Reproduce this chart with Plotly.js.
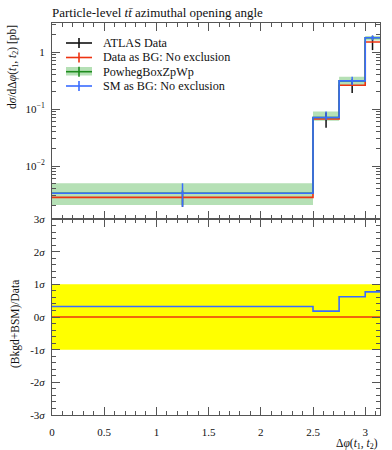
<!DOCTYPE html>
<html>
<head>
<meta charset="utf-8">
<script src="https://cdn.plot.ly/plotly-3.0.1.min.js"></script>
<style>html,body{margin:0;padding:0;background:#fff;}#chart{width:392px;height:450px;}</style>
</head>
<body>
<div id="chart"></div>
<script>
// ---- data ----
const binEdges = [0, 2.5, 2.75, 3.0, Math.PI];
const binCenters = [1.25, 2.625, 2.875, 3.07];

const atlasData = [2.82e-3, 0.0668, 0.261, 1.50];
const atlasErr = [0.9e-3, 0.020, 0.070, 0.42];

const dataAsBG = [2.82e-3, 0.0668, 0.261, 1.50];

const powhegVals = [3.32e-3, 0.0710, 0.312, 1.78];
const powhegLow = [2.07e-3, 0.0620, 0.264, 1.60];
const powhegHigh = [4.97e-3, 0.0900, 0.369, 1.91];

const smVals = [3.32e-3, 0.0710, 0.312, 1.78];
const smErrPlus = [1.65e-3, 0.019, 0.057, 0.18];
const smErrMinus = [1.40e-3, 0.007, 0.048, 0.18];

const ratioSM = [0.32, 0.18, 0.62, 0.77];
const ratioDataBG = [0, 0, 0, 0];
const ratioBandLow = [-1, -1, -1, -1];
const ratioBandHigh = [1, 1, 1, 1];

const sigmaTickVals = [-3, -2, -1, 0, 1, 2, 3];
const sigmaTickText = ['-3<i>σ</i>', '-2<i>σ</i>', '-1<i>σ</i>', '0<i>σ</i>', '1<i>σ</i>', '2<i>σ</i>', '3<i>σ</i>'];
const logTickVals = [0.01, 0.1, 1];
const logTickText = ['10<sup>−2</sup>', '10<sup>−1</sup>', '1'];

const legendNames = ['ATLAS Data', 'Data as BG: No exclusion', 'PowhegBoxZpWp', 'SM as BG: No exclusion'];

// ---- styles ----
const FONT = 'Liberation Serif, DejaVu Serif, serif';
const C_BLACK = '#111111';
const C_RED = '#ee3311';
const C_GREEN = '#1e8c1e';
const C_BAND = '#b5e0b5';
const C_BLUE = '#3a6cff';
const C_YELLOW = '#ffff00';

function stepY(v) { return v.concat([v[v.length - 1]]); }

const traces = [];
// upper: green band
traces.push({x: binEdges, y: stepY(powhegLow), mode: 'lines', line: {shape: 'hv', width: 0, color: C_BAND},
  xaxis: 'x2', yaxis: 'y', showlegend: false, hoverinfo: 'skip'});
traces.push({x: binEdges, y: stepY(powhegHigh), mode: 'lines', line: {shape: 'hv', width: 0, color: C_BAND},
  fill: 'tonexty', fillcolor: C_BAND, xaxis: 'x2', yaxis: 'y', showlegend: false, hoverinfo: 'skip'});
// ATLAS data
traces.push({x: binCenters, y: atlasData, mode: 'markers', marker: {size: 1, color: C_BLACK, opacity: 0},
  error_y: {type: 'data', array: atlasErr, color: C_BLACK, thickness: 1.5, width: 0},
  xaxis: 'x2', yaxis: 'y', showlegend: false});
// Data as BG
traces.push({x: binEdges, y: stepY(dataAsBG), mode: 'lines', line: {shape: 'hv', width: 1.6, color: C_RED},
  xaxis: 'x2', yaxis: 'y', showlegend: false});
// Powheg line
traces.push({x: binEdges, y: stepY(powhegVals), mode: 'lines', line: {shape: 'hv', width: 1.6, color: C_GREEN},
  xaxis: 'x2', yaxis: 'y', showlegend: false});
// SM line
traces.push({x: binEdges, y: stepY(smVals), mode: 'lines', line: {shape: 'hv', width: 1.6, color: C_BLUE},
  xaxis: 'x2', yaxis: 'y', showlegend: false});
traces.push({x: binCenters, y: smVals, mode: 'markers', marker: {size: 1, color: C_BLUE, opacity: 0},
  error_y: {type: 'data', symmetric: false, array: smErrPlus, arrayminus: smErrMinus, color: C_BLUE, thickness: 1.5, width: 0},
  xaxis: 'x2', yaxis: 'y', showlegend: false});

// lower: yellow band
traces.push({x: binEdges, y: stepY(ratioBandLow), mode: 'lines', line: {shape: 'hv', width: 0, color: C_YELLOW},
  xaxis: 'x', yaxis: 'y2', showlegend: false, hoverinfo: 'skip'});
traces.push({x: binEdges, y: stepY(ratioBandHigh), mode: 'lines', line: {shape: 'hv', width: 0, color: C_YELLOW},
  fill: 'tonexty', fillcolor: C_YELLOW, xaxis: 'x', yaxis: 'y2', showlegend: false, hoverinfo: 'skip'});
traces.push({x: binEdges, y: stepY(ratioDataBG), mode: 'lines', line: {shape: 'hv', width: 1.6, color: C_RED},
  xaxis: 'x', yaxis: 'y2', showlegend: false});
traces.push({x: binEdges, y: stepY(ratioSM), mode: 'lines', line: {shape: 'hv', width: 1.6, color: C_BLUE},
  xaxis: 'x', yaxis: 'y2', showlegend: false});

// ---- geometry helpers (pixel -> paper) ----
const L = 52, R = 380, T = 23, B = 415;
const W = 392, H = 450;
function px(xp) { return (xp - L) / (R - L); }
function py(yp) { return (B - yp) / (B - T); }

// log-axis minor ticks
const logMinor = [];
for (let e = -3; e <= 0; e++) {
  for (let d = 2; d <= 9; d++) logMinor.push(d * Math.pow(10, e));
}

// manual legend
const legendRows = [43, 57.5, 71.7, 86];
const legendColors = [C_BLACK, C_RED, C_GREEN, C_BLUE];
const shapes = [];
const annotations = [];
legendRows.forEach((ry, i) => {
  if (i === 2) {
    shapes.push({type: 'rect', xref: 'paper', yref: 'paper', x0: px(66), x1: px(92), y0: py(75.5), y1: py(67),
      fillcolor: C_BAND, line: {width: 0}, layer: 'above'});
  }
  shapes.push({type: 'line', xref: 'paper', yref: 'paper', x0: px(66), x1: px(92), y0: py(ry), y1: py(ry),
    line: {color: legendColors[i], width: 1.6}});
  shapes.push({type: 'line', xref: 'paper', yref: 'paper', x0: px(79), x1: px(79), y0: py(ry - 5), y1: py(ry + 5),
    line: {color: legendColors[i], width: 1.6}});
  annotations.push({xref: 'paper', yref: 'paper', x: px(101), y: py(ry), xanchor: 'left', yanchor: 'middle',
    text: legendNames[i], showarrow: false, font: {family: FONT, size: 12.2, color: '#111'}});
});

// axis titles
annotations.push({xref: 'paper', yref: 'paper', x: px(13), y: 1, xanchor: 'center', yanchor: 'top', textangle: -90,
  text: 'd<i>σ</i>/dΔ<i>φ</i>(<i>t</i><sub>1</sub>, <i>t</i><sub>2</sub>) [pb]', showarrow: false,
  font: {family: FONT, size: 11.5, color: '#111'}});
annotations.push({xref: 'paper', yref: 'paper', x: px(15), y: py(324), xanchor: 'center', yanchor: 'middle', textangle: -90,
  text: '(Bkgd+BSM)/Data', showarrow: false, font: {family: FONT, size: 11.5, color: '#111'}});
annotations.push({xref: 'paper', yref: 'paper', x: 1, y: py(444), xanchor: 'right', yanchor: 'middle',
  text: 'Δ<i>φ</i>(<i>t</i><sub>1</sub>, <i>t</i><sub>2</sub>)', showarrow: false,
  font: {family: FONT, size: 11.5, color: '#111'}});

const axisCommon = {
  showline: true, linecolor: '#555', linewidth: 1, mirror: 'allticks',
  ticks: 'inside', ticklen: 8, tickwidth: 1, tickcolor: '#555',
  showgrid: false, zeroline: false,
  tickfont: {family: FONT, size: 11, color: '#111'}
};

const layout = {
  width: W, height: H,
  margin: {l: L, r: W - R, t: T, b: H - B, pad: 0},
  paper_bgcolor: '#fff', plot_bgcolor: '#fff',
  showlegend: false,
  title: {text: 'Particle-level <i>t</i><i>t̄</i> azimuthal opening angle', x: L / W, xanchor: 'left',
    y: 1 - 12 / H, yanchor: 'middle', font: {family: FONT, size: 13, color: '#111'}},
  xaxis: Object.assign({}, axisCommon, {domain: [0, 1], anchor: 'y2', range: [0, Math.PI], tick0: 0, dtick: 0.5,
    ticklabelstandoff: 7,
    minor: {ticks: 'inside', ticklen: 4, dtick: 0.1, tick0: 0, tickcolor: '#555', showgrid: false}}),
  xaxis2: Object.assign({}, axisCommon, {domain: [0, 1], anchor: 'y', matches: 'x', range: [0, Math.PI], tick0: 0, dtick: 0.5,
    showticklabels: false,
    minor: {ticks: 'inside', ticklen: 4, dtick: 0.1, tick0: 0, tickcolor: '#555', showgrid: false}}),
  yaxis: Object.assign({}, axisCommon, {domain: [0.5, 1], anchor: 'x2', type: 'log', range: [-2.93, 0.509],
    tickmode: 'array', tickvals: logTickVals, ticktext: logTickText, ticklabelstandoff: 4,
    minor: {ticks: 'inside', ticklen: 4, tickmode: 'array', tickvals: logMinor, tickcolor: '#555', showgrid: false}}),
  yaxis2: Object.assign({}, axisCommon, {domain: [0, 0.5], anchor: 'x', range: [-3, 3],
    tickmode: 'array', tickvals: sigmaTickVals, ticktext: sigmaTickText, ticklabelstandoff: 4,
    minor: {ticks: 'inside', ticklen: 4, dtick: 0.2, tick0: 0, tickcolor: '#555', showgrid: false}}),
  shapes: shapes,
  annotations: annotations
};

Plotly.newPlot('chart', traces, layout, {displayModeBar: false, staticPlot: true});
</script>
</body>
</html>
